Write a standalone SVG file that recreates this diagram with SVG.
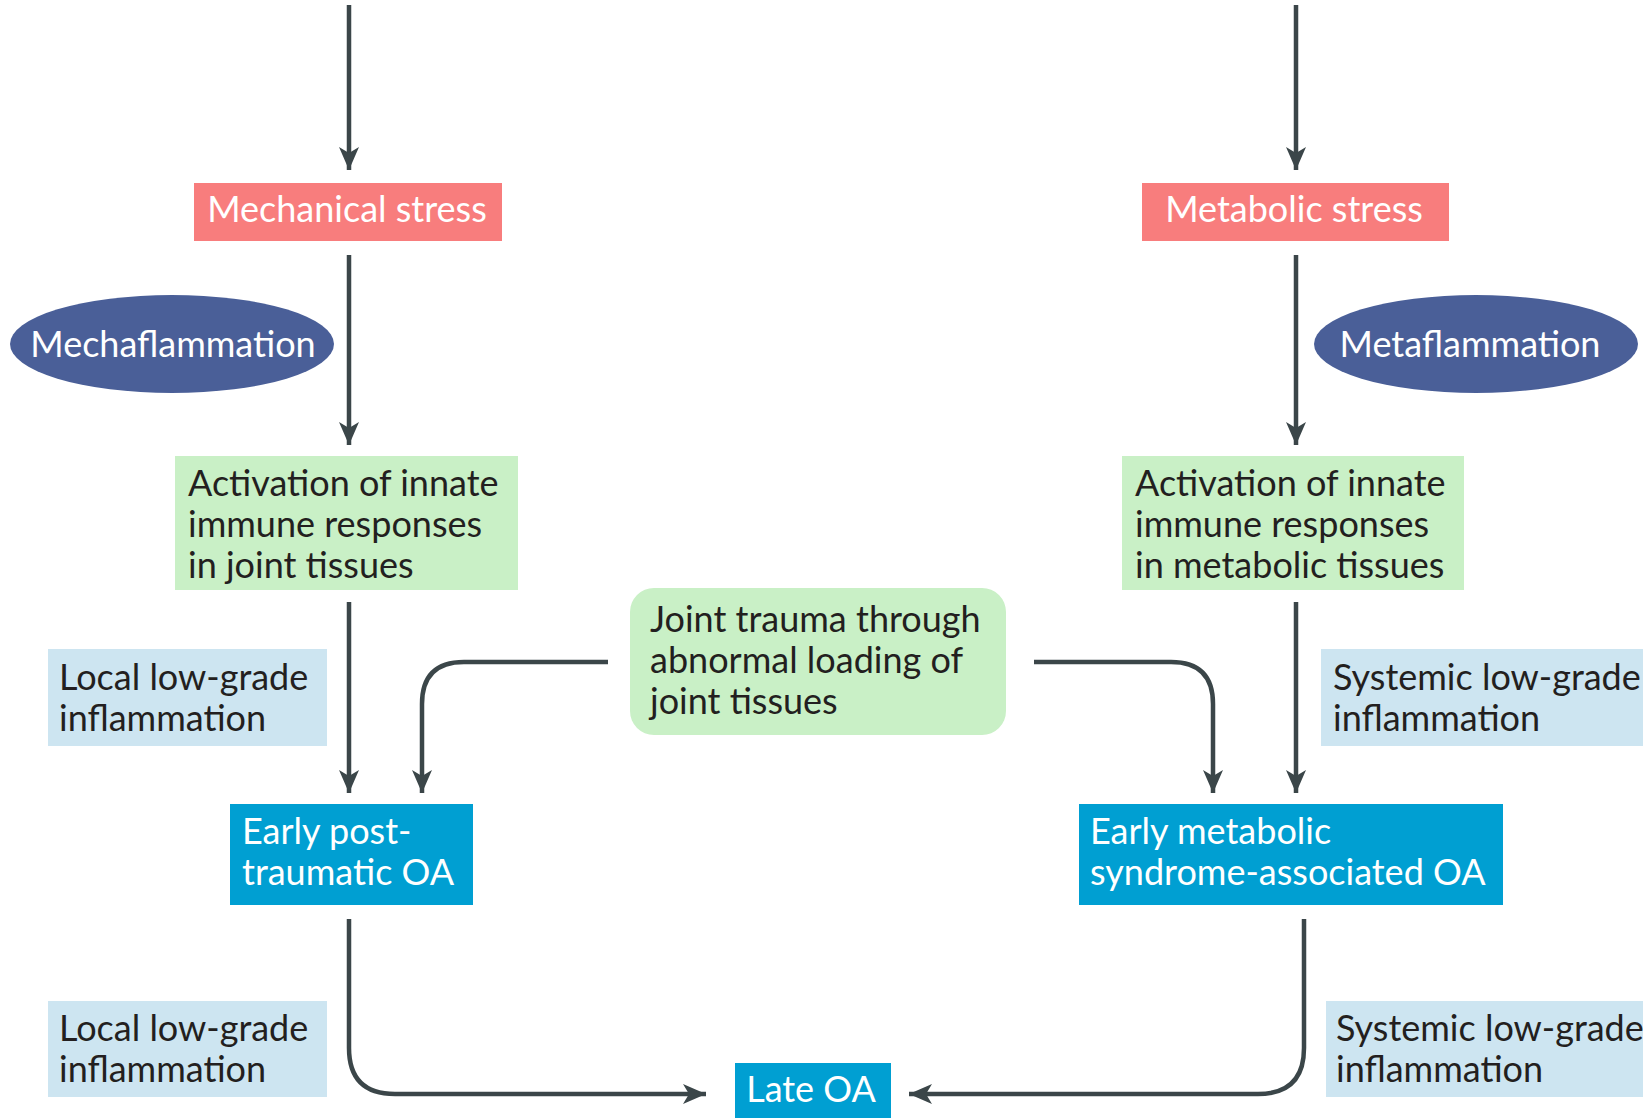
<svg xmlns="http://www.w3.org/2000/svg" width="1643" height="1118" viewBox="0 0 1643 1118">
<defs>
<marker id="ah" viewBox="-24 -11 26 22" refX="0" refY="0" markerWidth="26" markerHeight="22" markerUnits="userSpaceOnUse" orient="auto">
<path d="M0,0 L-23,-10 L-17,0 L-23,10 Z" fill="#3b4649"/>
</marker>
<style>
text{font-family:Lato,"Open Sans","Noto Sans",sans-serif;font-size:36px}
.dark{fill:#231f20}
.white{fill:#ffffff}
.red{fill:#f87d7d}
.green{fill:#c9f0c6}
.lblue{fill:#cde5f1}
.blue{fill:#009fd2}
.oval{fill:#4a5f98}
.con{fill:none;stroke:#3b4649;stroke-width:4.5;marker-end:url(#ah)}
</style>
</defs>
<rect width="1643" height="1118" fill="#ffffff"/>
<g id="connectors">
<path class="con" d="M349,5 V170"/>
<path class="con" d="M1296,5 V170"/>
<path class="con" d="M349,255 V445"/>
<path class="con" d="M1296,255 V445"/>
<path class="con" d="M349,602 V793"/>
<path class="con" d="M1296,602 V793"/>
<path class="con" d="M608,662 H464 Q422,662 422,704 V793"/>
<path class="con" d="M1034,662 H1171 Q1213,662 1213,704 V793"/>
<path class="con" d="M349,919 V1048 Q349,1094 395,1094 H706"/>
<path class="con" d="M1304,919 V1048 Q1304,1094 1258,1094 H909"/>
</g>
<g id="mechanical-stress">
<rect class="red" x="194" y="183" width="308" height="58"/>
<text class="white" x="347" y="222" text-anchor="middle">Mechanical stress</text>
</g>
<g id="metabolic-stress">
<rect class="red" x="1142" y="183" width="307" height="58"/>
<text class="white" x="1294" y="222" text-anchor="middle">Metabolic stress</text>
</g>
<g id="mechaflammation">
<ellipse class="oval" cx="172" cy="344" rx="162" ry="49"/>
<text class="white" x="173" y="357" text-anchor="middle">Mechaflammation</text>
</g>
<g id="metaflammation">
<ellipse class="oval" cx="1476" cy="344" rx="162" ry="49"/>
<text class="white" x="1470" y="357" text-anchor="middle">Metaflammation</text>
</g>
<g id="innate-joint">
<rect class="green" x="175" y="456" width="343" height="134"/>
<text class="dark" x="188" y="496">Activation of innate</text>
<text class="dark" x="188" y="537">immune responses</text>
<text class="dark" x="188" y="578">in joint tissues</text>
</g>
<g id="innate-metabolic">
<rect class="green" x="1122" y="456" width="342" height="134"/>
<text class="dark" x="1135" y="496">Activation of innate</text>
<text class="dark" x="1135" y="537">immune responses</text>
<text class="dark" x="1135" y="578">in metabolic tissues</text>
</g>
<g id="local-inflammation-1">
<rect class="lblue" x="48" y="649" width="279" height="97"/>
<text class="dark" x="59" y="690">Local low-grade</text>
<text class="dark" x="59" y="731">inflammation</text>
</g>
<g id="systemic-inflammation-1">
<rect class="lblue" x="1321" y="649" width="322" height="97"/>
<text class="dark" x="1333" y="690">Systemic low-grade</text>
<text class="dark" x="1333" y="731">inflammation</text>
</g>
<g id="joint-trauma">
<rect class="green" x="630" y="588" width="376" height="147" rx="24" ry="24"/>
<text class="dark" x="650" y="632">Joint trauma through</text>
<text class="dark" x="650" y="673">abnormal  loading of</text>
<text class="dark" x="650" y="714">joint tissues</text>
</g>
<g id="early-post-traumatic-oa">
<rect class="blue" x="230" y="804" width="243" height="101"/>
<text class="white" x="242" y="844">Early post-</text>
<text class="white" x="242" y="885">traumatic OA</text>
</g>
<g id="early-metabolic-oa">
<rect class="blue" x="1079" y="804" width="424" height="101"/>
<text class="white" x="1090" y="844">Early metabolic</text>
<text class="white" x="1090" y="885">syndrome-associated OA</text>
</g>
<g id="local-inflammation-2">
<rect class="lblue" x="48" y="1001" width="279" height="96"/>
<text class="dark" x="59" y="1041">Local low-grade</text>
<text class="dark" x="59" y="1082">inflammation</text>
</g>
<g id="systemic-inflammation-2">
<rect class="lblue" x="1326" y="1001" width="317" height="96"/>
<text class="dark" x="1336" y="1041">Systemic low-grade</text>
<text class="dark" x="1336" y="1082">inflammation</text>
</g>
<g id="late-oa">
<rect class="blue" x="735" y="1063" width="156" height="55"/>
<text class="white" x="811" y="1102" text-anchor="middle">Late OA</text>
</g>
</svg>
